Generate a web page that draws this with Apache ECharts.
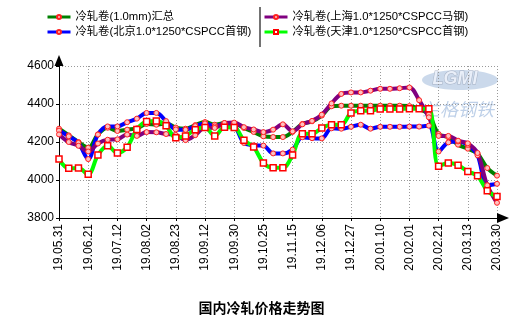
<!DOCTYPE html>
<html><head><meta charset="utf-8">
<script src="https://cdn.jsdelivr.net/npm/echarts@6/dist/echarts.min.js"></script>
<style>html,body{margin:0;padding:0;background:#fff}#c{width:523px;height:326px}</style>
</head><body><div id="c"></div>
<script>
const dates = ['19.05.31','19.06.06','19.06.14','19.06.21','19.06.28','19.07.05','19.07.12','19.07.19','19.07.26','19.08.02',
  '19.08.09','19.08.16','19.08.23','19.08.30','19.09.06','19.09.12','19.09.20','19.09.27','19.09.30','19.10.11',
  '19.10.18','19.10.25','19.11.01','19.11.08','19.11.15','19.11.22','19.11.29','19.12.06','19.12.13','19.12.20',
  '19.12.27','20.01.02','20.01.06','20.01.10','20.01.14','20.01.17','20.02.01','20.02.10','20.02.14','20.02.21',
  '20.02.28','20.03.06','20.03.13','20.03.20','20.03.27','20.03.30'];
const seriesNames = ['冷轧卷(1.0mm)汇总','冷轧卷(北京1.0*1250*CSPCC首钢)','冷轧卷(上海1.0*1250*CSPCC马钢)','冷轧卷(天津1.0*1250*CSPCC首钢)'];
const total = [4270,4235,4200,4170,4240,4275,4258,4265,4272,4295,
  4291,4298,4276,4270,4289,4305,4291,4300,4298,4274,
  4253,4230,4226,4226,4253,4295,4309,4339,4388,4391,
  4391,4391,4391,4391,4391,4391,4389,4374,4345,4242,
  4225,4186,4165,4138,4063,4023];
const beijing = [4260,4230,4195,4110,4239,4282,4282,4304,4323,4353,
  4353,4310,4266,4264,4284,4298,4282,4295,4285,4195,
  4183,4181,4140,4140,4160,4225,4220,4219,4272,4270,
  4280,4291,4270,4280,4280,4280,4281,4281,4286,4150,
  4198,4203,4185,4130,3972,3980];
const shanghai = [4240,4200,4180,4150,4192,4212,4214,4239,4232,4252,
  4251,4242,4237,4210,4236,4275,4274,4300,4302,4278,
  4266,4252,4265,4293,4256,4293,4311,4344,4403,4453,
  4461,4461,4470,4480,4480,4483,4487,4420,4330,4232,
  4232,4207,4193,4142,3972,3880];
const tianjin = [4110,4062,4063,4030,4131,4180,4142,4173,4266,4308,
  4311,4286,4222,4232,4265,4276,4232,4277,4276,4209,
  4174,4090,4064,4064,4132,4243,4243,4274,4291,4291,
  4353,4365,4365,4374,4374,4374,4375,4375,4375,4073,
  4090,4078,4045,4022,3943,3913];
const colors = ['#008000','#0000ff','#800080','#00ff00'];
const yMin = 3800, yMax = 4600, yStep = 200;
const titleText = '国内冷轧价格走势图';

const chart = echarts.init(document.getElementById('c'), null, {renderer:'canvas'});
const FONT = 'Liberation Sans, Arial, Noto Sans CJK SC, sans-serif';
function mk(name, data, color, square) {
  return {
    name, type:'line', data, smooth:0.35,
    symbol: square ? 'rect' : 'circle', symbolSize: square ? 6 : 5,
    lineStyle:{color, width:4},
    itemStyle: square ? {color:'#ffffff', borderColor:'#ff0000', borderWidth:1.5}
                      : {color:'#ffc0c0', borderColor:'#ff2020', borderWidth:1},
    emphasis:{disabled:true}, animation:false
  };
}
const legendCommon = {orient:'vertical', top:11, padding:0, itemWidth:23, itemHeight:5, itemGap:3,
  lineStyle:{width:3}, textStyle:{fontSize:11.3, color:'#000', fontFamily:FONT, lineHeight:12}, selectedMode:false};
chart.setOption({
  backgroundColor:'#fff',
  animation:false,
  title:{text:titleText, left:'center', top:296, textStyle:{fontSize:14, fontWeight:'bold', color:'#000', fontFamily:'Noto Sans CJK SC'}},
  legend:[
    Object.assign({data:[seriesNames[0], seriesNames[1]], left:46}, legendCommon),
    Object.assign({data:[seriesNames[2], seriesNames[3]], left:263}, legendCommon)
  ],
  grid:{left:59, right:26, top:66, bottom:108, containLabel:false},
  xAxis:{type:'category', data:dates, boundaryGap:false,
    axisLine:{lineStyle:{color:'#000', width:1}, symbol:['none','triangle'], symbolSize:[10,12], symbolOffset:[0,6]},
    axisTick:{show:true, interval:2, length:3, lineStyle:{color:'#000'}},
    axisLabel:{interval:2, rotate:90, fontSize:12, color:'#000', fontFamily:FONT, margin:6},
    splitLine:{show:true, interval:2, lineStyle:{color:'#999', width:1, type:[1,2]}}},
  yAxis:{type:'value', min:yMin, max:yMax, interval:yStep,
    axisLine:{show:true, lineStyle:{color:'#000', width:1}, symbol:['none','triangle'], symbolSize:[9,11], symbolOffset:[0,5.5]},
    axisTick:{show:true, length:3, lineStyle:{color:'#000'}},
    axisLabel:{fontSize:12, color:'#000', fontFamily:FONT, margin:5, formatter:v => String(v)},
    splitLine:{show:true, lineStyle:{color:'#999', width:1, type:[1,2]}}},
  graphic:[
    {type:'line', shape:{x1:260, y1:7, x2:260, y2:47}, style:{stroke:'#444', lineWidth:1.5}, silent:true},
    {type:'ellipse', shape:{cx:460, cy:80, rx:38, ry:10}, style:{fill:'rgba(140,170,210,0.45)'}, silent:true, z:-1},
    {type:'text', left:432, top:70, style:{text:'LGMI', font:'bold italic 18px Liberation Sans', fill:'rgba(235,240,250,0.95)', stroke:'rgba(150,160,180,0.7)', lineWidth:1}, silent:true, z:-1},
    {type:'text', left:422, top:100, style:{text:'兰格钢铁', font:'italic 18px Noto Sans CJK SC', fill:'rgba(110,150,205,0.45)'}, silent:true, z:-1}
  ],
  series:[
    mk(seriesNames[0], total, colors[0], false),
    mk(seriesNames[1], beijing, colors[1], false),
    mk(seriesNames[2], shanghai, colors[2], false),
    mk(seriesNames[3], tianjin, colors[3], true)
  ]
});
</script></body></html>
